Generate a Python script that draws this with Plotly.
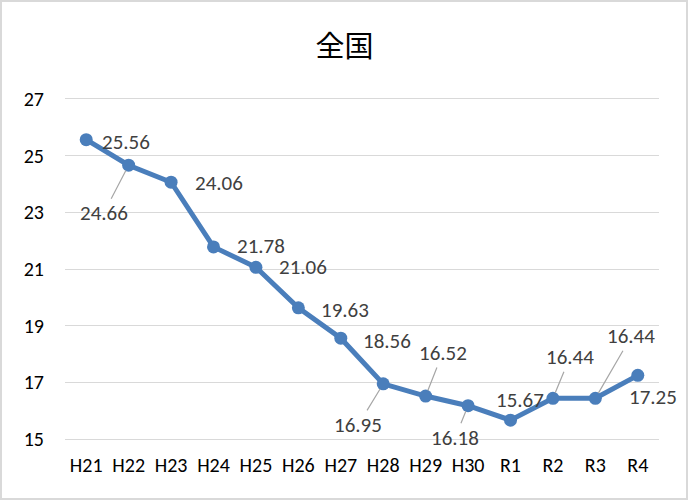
import plotly.graph_objects as go

categories = ["H21", "H22", "H23", "H24", "H25", "H26", "H27", "H28", "H29", "H30", "R1", "R2", "R3", "R4"]
values = [25.56, 24.66, 24.06, 21.78, 21.06, 19.63, 18.56, 16.95, 16.52, 16.18, 15.67, 16.44, 16.44, 17.25]
y_ticks = [15, 17, 19, 21, 23, 25, 27]

# label placement: (dx, dy) pixel offsets of label centre from the marker (screen y down), leader line flag
label_pos = [(40, 2, False), (-25, 48, True), (48, 1, False), (47, -1, False), (47, 0, False),
             (47, 2, False), (46, 3, False), (-25, 41, True), (17, -43, True), (-13, 32, True),
             (9, -20, False), (17, -41, True), (36, -62, True), (15, 22, False)]

W, H = 689, 501
L, R, T, B = 65, 30, 96, 59
FONT = "Carlito, Lato, 'Liberation Sans', sans-serif"
LINE = "#4A7EBB"

fig = go.Figure(go.Scatter(
    x=categories, y=values, mode="lines+markers",
    line=dict(color=LINE, width=5),
    marker=dict(color=LINE, size=13),
    hoverinfo="skip"))

annotations = []
for c, v, (dx, dy, lead) in zip(categories, values, label_pos):
    if lead:
        annotations.append(dict(x=c, y=v, xref="x", yref="y", text=f"{v:.2f}",
                                showarrow=True, arrowhead=0, arrowwidth=1.2, arrowcolor="#A6A6A6",
                                ax=dx, ay=dy, standoff=6,
                                font=dict(family=FONT, size=21, color="#404040")))
    else:
        annotations.append(dict(x=c, y=v, xref="x", yref="y", text=f"{v:.2f}",
                                showarrow=False, xshift=dx, yshift=-dy,
                                font=dict(family=FONT, size=21, color="#404040")))

pw = W - L - R
ph = H - T - B
fig.add_shape(type="rect", xref="paper", yref="paper",
              x0=(1 - L) / pw, x1=(W - L - 2) / pw,
              y0=-(B - 2) / ph, y1=(H - B - 1) / ph,
              line=dict(color="#D9D9D9", width=2), fillcolor="rgba(0,0,0,0)", layer="below")

fig.update_layout(
    width=W, height=H,
    margin=dict(l=L, r=R, t=T, b=B, autoexpand=False),
    paper_bgcolor="white", plot_bgcolor="white",
    showlegend=False,
    title=dict(text="全国", x=0.5, xref="container", xanchor="center",
               y=1 - 47 / H, yanchor="middle", yref="container",
               font=dict(family="'Noto Sans CJK JP', sans-serif", size=29, color="black")),
    font=dict(family=FONT, size=16, color="black"),
    annotations=annotations,
    xaxis=dict(type="category", range=[-0.5, len(categories) - 0.5], showgrid=False, showline=False,
               zeroline=False, tickfont=dict(family=FONT, size=20, color="black"), ticks="",
               ticklabelstandoff=9, automargin=False),
    yaxis=dict(range=[14.9, 27.1], tickvals=y_ticks, showgrid=True, gridcolor="#D9D9D9", gridwidth=1,
               zeroline=False, showline=False, ticks="",
               tickfont=dict(family=FONT, size=20, color="black"),
               ticklabelstandoff=20, automargin=False),
)

fig.write_html("out.html", config={"displayModeBar": False},
               post_script="document.body.style.margin='0';document.body.style.overflow='hidden';")
